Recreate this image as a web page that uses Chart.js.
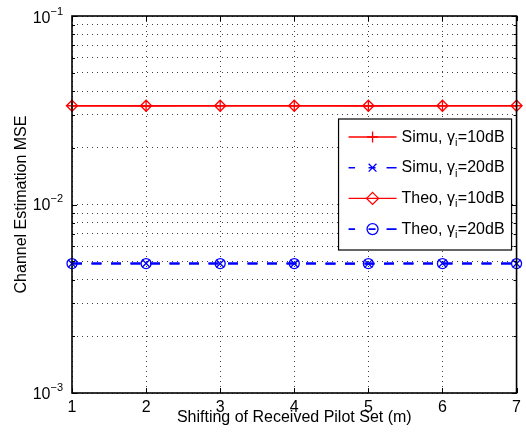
<!DOCTYPE html>
<html><head><meta charset="utf-8">
<script src="https://cdn.jsdelivr.net/npm/chart.js@4.4.1/dist/chart.umd.min.js"></script>
<style>html,body{margin:0;padding:0;background:#fff;}canvas{display:block;}</style>
</head><body>
<canvas id="c" width="526" height="435"></canvas>
<script>
// ---- data ----
const shifts = [1, 2, 3, 4, 5, 6, 7];
const simu10 = [0.0334, 0.0333, 0.0334, 0.0334, 0.0333, 0.0334, 0.0334];
const simu20 = [0.00486, 0.00487, 0.00486, 0.00486, 0.00485, 0.00487, 0.00486];
const theo10 = [0.0334, 0.0334, 0.0334, 0.0334, 0.0334, 0.0334, 0.0334];
const theo20 = [0.00486, 0.00486, 0.00486, 0.00486, 0.00486, 0.00486, 0.00486];
const seriesLabels = ['Simu, γi=10dB', 'Simu, γi=20dB', 'Theo, γi=10dB', 'Theo, γi=20dB'];
const xTicks = [1, 2, 3, 4, 5, 6, 7];
const yTicks = [0.001, 0.002, 0.003, 0.004, 0.005, 0.006, 0.007, 0.008, 0.009,
                0.01, 0.02, 0.03, 0.04, 0.05, 0.06, 0.07, 0.08, 0.09, 0.1];
const yMajorTicks = [0.001, 0.01, 0.1];
const yMajorLabels = [['10', '−3'], ['10', '−2'], ['10', '−1']];
const xTitle = 'Shifting of Received Pilot Set (m)';
const yTitle = 'Channel Estimation MSE';

const FONT = "'Liberation Sans', Arial, Helvetica, sans-serif";
Chart.defaults.font.family = FONT;
Chart.defaults.font.size = 16;
Chart.defaults.color = '#000';

const RED = '#ff0000', BLUE = '#0000ff';
const BLUE_DASH = [10, 9.5];

function pts(arr) { return shifts.map((x, i) => ({ x: x, y: arr[i] })); }
function ds(label, arr, color, style, radius, dash) {
  return {
    label: label, data: pts(arr), borderColor: color, borderWidth: dash ? 2 : 1.4,
    borderDash: dash || [], pointStyle: style, pointRadius: radius, pointHoverRadius: radius,
    pointBorderColor: color, pointBackgroundColor: 'rgba(0,0,0,0)', pointBorderWidth: 1.3,
    fill: false, tension: 0, clip: false
  };
}

function drawMarker(ctx, style, x, y, r) {
  ctx.beginPath();
  if (style === 'cross') {
    ctx.moveTo(x - r, y); ctx.lineTo(x + r, y); ctx.moveTo(x, y - r); ctx.lineTo(x, y + r);
  } else if (style === 'crossRot') {
    const d = r * Math.SQRT1_2;
    ctx.moveTo(x - d, y - d); ctx.lineTo(x + d, y + d); ctx.moveTo(x - d, y + d); ctx.lineTo(x + d, y - d);
  } else if (style === 'rectRot') {
    ctx.moveTo(x, y - r); ctx.lineTo(x + r, y); ctx.lineTo(x, y + r); ctx.lineTo(x - r, y); ctx.closePath();
  } else if (style === 'circle') {
    ctx.arc(x, y, r, 0, Math.PI * 2);
  }
  ctx.stroke();
}

const framePlugin = {
  id: 'matlabFrame',
  afterDraw(chart) {
    const ctx = chart.ctx, a = chart.chartArea;
    const xs = chart.scales.x, ys = chart.scales.y;
    ctx.save();
    ctx.strokeStyle = '#000';
    // inward tick marks
    ctx.lineWidth = 1;
    ctx.beginPath();
    xTicks.forEach(v => {
      const px = Math.round(xs.getPixelForValue(v)) + 0.5;
      ctx.moveTo(px, a.bottom); ctx.lineTo(px, a.bottom - 5);
      ctx.moveTo(px, a.top); ctx.lineTo(px, a.top + 5);
    });
    yTicks.forEach(v => {
      const py = Math.round(ys.getPixelForValue(v)) + 0.5;
      const len = yMajorTicks.indexOf(v) >= 0 ? 5 : 3;
      ctx.moveTo(a.left, py); ctx.lineTo(a.left + len, py);
      ctx.moveTo(a.right, py); ctx.lineTo(a.right - len, py);
    });
    ctx.stroke();
    // box
    ctx.lineWidth = 1.6;
    ctx.strokeRect(a.left, a.top, a.right - a.left, a.bottom - a.top);
    // y tick labels with superscripts
    ctx.fillStyle = '#000';
    ctx.textBaseline = 'alphabetic';
    ctx.textAlign = 'left';
    yMajorTicks.forEach((v, i) => {
      const py = ys.getPixelForValue(v);
      const [base, sup] = yMajorLabels[i];
      const dy = (py - a.top < 2) ? 7 : 5.5;
      ctx.font = '16px ' + FONT;
      const bw = ctx.measureText(base).width;
      ctx.font = '11px ' + FONT;
      const sw = ctx.measureText(sup).width;
      const xEnd = a.left - 9;
      ctx.font = '16px ' + FONT;
      ctx.fillText(base, xEnd - sw - bw, py + dy);
      ctx.font = '11px ' + FONT;
      ctx.fillText(sup, xEnd - sw, py + dy - 8);
    });
    // legend
    const bx1 = a.right - 5, bx0 = bx1 - 173, by0 = a.top + 103, bh = 131;
    ctx.fillStyle = '#fff';
    ctx.fillRect(bx0, by0, bx1 - bx0, bh);
    ctx.lineWidth = 1.2;
    ctx.strokeStyle = '#000';
    ctx.strokeRect(bx0, by0, bx1 - bx0, bh);
    chart.data.datasets.forEach((d, i) => {
      const cy = by0 + 18 + i * 30.7;
      const lx0 = bx0 + 10, lx1 = bx0 + 58, mx = (lx0 + lx1) / 2;
      ctx.strokeStyle = d.borderColor;
      ctx.lineWidth = d.borderDash.length ? 1.6 : 1.4;
      ctx.setLineDash(d.borderDash.length ? [6.5, 13.5, 7, 11, 11] : []);
      ctx.beginPath(); ctx.moveTo(lx0, cy); ctx.lineTo(lx1, cy); ctx.stroke();
      ctx.setLineDash([]);
      ctx.lineWidth = 1.3;
      drawMarker(ctx, d.pointStyle, mx, cy, d.pointStyle === 'rectRot' ? 6 : 5.5);
      // text with subscript i after gamma
      const parts = d.label.split('γi');
      let tx = bx0 + 63;
      ctx.fillStyle = '#000';
      ctx.font = '16px ' + FONT;
      ctx.fillText(parts[0] + 'γ', tx, cy + 4.5);
      tx += ctx.measureText(parts[0] + 'γ').width;
      ctx.font = '11px ' + FONT;
      ctx.fillText('i', tx, cy + 9);
      tx += ctx.measureText('i').width + 0.5;
      ctx.font = '16px ' + FONT;
      ctx.fillText(parts[1], tx, cy + 4.5);
    });
    ctx.restore();
  }
};

const gridCommon = { color: 'rgba(0,0,0,0.75)', lineWidth: 1, drawTicks: false };

new Chart(document.getElementById('c'), {
  type: 'line',
  data: {
    datasets: [
      ds(seriesLabels[0], simu10, RED, 'cross', 5.5, null),
      ds(seriesLabels[1], simu20, BLUE, 'crossRot', 5.5, BLUE_DASH),
      ds(seriesLabels[2], theo10, RED, 'rectRot', 5.5, null),
      ds(seriesLabels[3], theo20, BLUE, 'circle', 5, BLUE_DASH)
    ]
  },
  options: {
    responsive: false, animation: false, devicePixelRatio: 1,
    layout: { padding: { left: 0, right: 7, top: 16, bottom: 0 } },
    plugins: { legend: { display: false }, tooltip: { enabled: false } },
    scales: {
      x: {
        type: 'linear', min: 1, max: 7,
        afterBuildTicks: s => { s.ticks = xTicks.map(v => ({ value: v })); },
        afterFit: s => { s.height = 42; },
        ticks: { padding: 5, maxRotation: 0, autoSkip: false, font: { size: 16 } },
        grid: gridCommon,
        border: { display: false, dash: [1, 4] },
        title: { display: true, text: xTitle, padding: { top: 0, bottom: 8 }, font: { size: 16 } }
      },
      y: {
        type: 'logarithmic', min: 0.001, max: 0.1,
        afterBuildTicks: s => { s.ticks = yTicks.map(v => ({ value: v, major: yMajorTicks.indexOf(v) >= 0 })); },
        afterFit: s => { s.width = 72; },
        ticks: { display: false, autoSkip: false },
        grid: gridCommon,
        border: { display: false, dash: [1, 4] },
        title: { display: true, text: yTitle, padding: { top: 12, bottom: 0 }, font: { size: 16 } }
      }
    }
  },
  plugins: [framePlugin]
});
</script>
</body></html>
